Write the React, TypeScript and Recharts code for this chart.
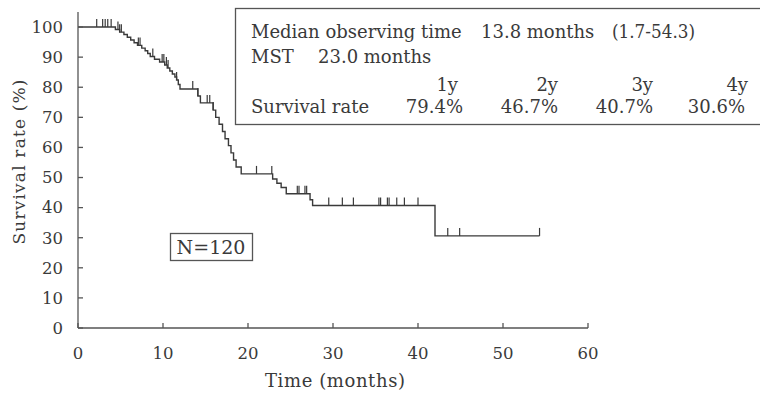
import React from 'react';
import { ComposedChart, Line, Scatter, XAxis, YAxis } from 'recharts';

// Kaplan-Meier step curve: time (months) at which survival drops, survival (%) after the drop
const stepTimes = [
  0, 4.4, 4.9, 5.4, 5.8, 6.2, 6.6, 7.0, 7.5, 7.9, 8.2, 8.5, 9.0, 9.6, 10.2, 10.5, 10.8, 11.1, 11.4,
  11.6, 11.8, 12.0, 14.1, 14.4, 15.9, 16.2, 16.6, 17.0, 17.3, 17.7, 18.0, 18.3, 18.6, 19.2, 22.9,
  23.4, 23.9, 24.5, 27.3, 27.6, 42.0, 54.3,
];
const stepSurvival = [
  100, 99.2, 98.3, 97.5, 96.6, 95.7, 94.8, 93.9, 93.0, 92.1, 91.2, 90.2, 89.3, 88.4, 87.4, 86.4, 85.4,
  84.4, 83.4, 82.4, 80.9, 79.4, 77.1, 74.8, 72.4, 70.0, 67.7, 65.3, 62.9, 60.6, 58.2, 55.8, 53.5, 51.2,
  49.5, 48.1, 46.7, 44.6, 42.6, 40.7, 30.6, 30.6,
];
// censored observations (months)
const censorTimes = [
  2.2, 2.9, 3.2, 3.5, 3.9, 4.7, 4.9, 5.1, 7.1, 7.3, 8.8, 9.9, 10.1, 10.4, 10.6, 11.6, 13.5, 14.1,
  15.2, 15.5, 15.9, 21.0, 22.8, 25.8, 26.0, 26.7, 26.9, 29.5, 31.1, 32.4, 35.4, 35.6, 36.4, 36.6,
  37.5, 38.4, 40.0, 43.5, 44.9, 54.3,
];
const xTicks = [0, 10, 20, 30, 40, 50, 60];
const yTicks = [0, 10, 20, 30, 40, 50, 60, 70, 80, 90, 100];
const yearLabels = ['1y', '2y', '3y', '4y'];
const yearRates = ['79.4%', '46.7%', '40.7%', '30.6%'];

const curve = stepTimes.map((t, i) => ({ t, s: stepSurvival[i] }));
const survivalAt = (t: number) => {
  let s = stepSurvival[0];
  for (let i = 0; i < stepTimes.length; i++) if (stepTimes[i] <= t) s = stepSurvival[i];
  return s;
};
const censors = censorTimes.map((t) => ({ t, s: survivalAt(t) }));

const FONT = '"DejaVu Serif", serif';
const INK = '#3a3a3a';

const CensorMark = (props: any) => {
  const { cx, cy } = props;
  if (cx == null || cy == null) return null;
  return <line x1={cx} y1={cy} x2={cx} y2={cy - 8} stroke={INK} strokeWidth={1.2} />;
};

const yearRight = [458, 558, 653, 748];
const rateRight = [463, 558, 653, 745];

export default function App() {
  return (
    <div style={{ position: 'absolute', left: 0, top: 0, width: 760, height: 393, background: '#fff' }}>
      <ComposedChart width={760} height={393} margin={{ top: 12, right: 172, bottom: 0, left: 0 }}>
        <XAxis
          dataKey="t"
          type="number"
          domain={[0, 60]}
          ticks={xTicks}
          height={65}
          tickSize={-5}
          tickMargin={24}
          stroke="#555"
          strokeWidth={1.3}
          tick={{ fontFamily: FONT, fontSize: 16.5, fill: INK }}
        />
        <YAxis
          type="number"
          domain={[0, 105]}
          ticks={yTicks}
          width={78}
          tickSize={-5}
          tickMargin={20}
          stroke="#555"
          strokeWidth={1.3}
          tick={{ fontFamily: FONT, fontSize: 16.5, fill: INK }}
        />
        <Line
          data={curve}
          dataKey="s"
          type="stepAfter"
          stroke={INK}
          strokeWidth={1.4}
          dot={false}
          activeDot={false}
          isAnimationActive={false}
        />
        <Scatter data={censors} dataKey="s" shape={CensorMark} isAnimationActive={false} />
      </ComposedChart>
      <svg
        width={760}
        height={393}
        style={{ position: 'absolute', left: 0, top: 0, pointerEvents: 'none' }}
        fontFamily={FONT}
        fill={INK}
      >
        <rect x={235.5} y={8.5} width={540} height={116} fill="#fff" stroke="#555" strokeWidth={1.3} />
        <text x={251} y={37.5} fontSize={18}>Median observing time</text>
        <text x={481} y={37.5} fontSize={18}>13.8 months</text>
        <text x={612} y={37.5} fontSize={18} textLength={83} lengthAdjust="spacingAndGlyphs">(1.7-54.3)</text>
        <text x={251} y={63} fontSize={18}>MST</text>
        <text x={318} y={63} fontSize={18}>23.0 months</text>
        {yearLabels.map((l, i) => (
          <text key={l} x={yearRight[i]} y={90.5} fontSize={18} textAnchor="end">{l}</text>
        ))}
        <text x={251} y={113} fontSize={18}>Survival rate</text>
        {yearRates.map((r, i) => (
          <text key={r} x={rateRight[i]} y={113} fontSize={18} textAnchor="end">{r}</text>
        ))}
        <rect x={170.5} y={233.5} width={82} height={27} fill="#fff" stroke="#555" strokeWidth={1.3} />
        <text x={211} y={254} fontSize={19} textAnchor="middle">N=120</text>
        <text x={335} y={387} fontSize={18} textAnchor="middle" textLength={140} lengthAdjust="spacing">Time (months)</text>
        <text
          x={0}
          y={0}
          fontSize={17}
          textAnchor="middle"
          transform="translate(25,162) rotate(-90)"
          textLength={165}
          lengthAdjust="spacing"
        >
          Survival rate (%)
        </text>
      </svg>
    </div>
  );
}
